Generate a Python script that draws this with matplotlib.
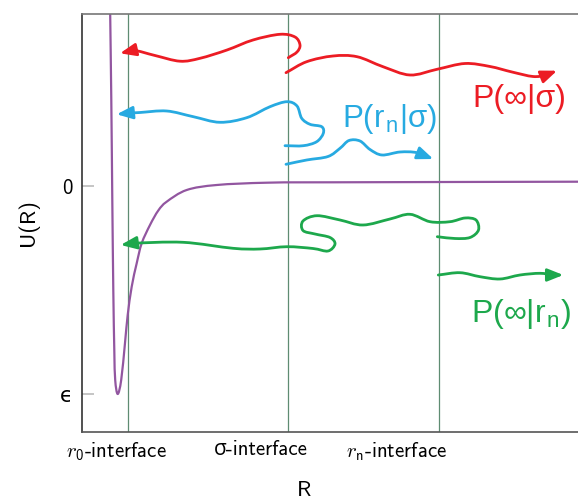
import numpy as np
import matplotlib
matplotlib.use("Agg")
import matplotlib.pyplot as plt
from matplotlib.path import Path
from matplotlib.patches import FancyArrowPatch, PathPatch

plt.rcParams['mathtext.fontset'] = 'custom'
plt.rcParams['mathtext.rm'] = 'cmss10'
plt.rcParams['mathtext.it'] = 'cmmi10'
plt.rcParams['mathtext.sf'] = 'Liberation Sans'
plt.rcParams['axes.unicode_minus'] = False

# ---------------- data (arbitrary units: R along x, U along y) ----------------
interfaces_R = [46, 206, 357]
xtick_pos = [34, 179, 315]
xtick_labels = [r"$r_0$-interface", "σ-interface", r"$r_\mathrm{n}$-interface"]
ytick_pos = [0, -208]
ytick_labels = ["0", "ϵ"]

# potential curve knots
pot_R = [28, 29.3, 30.3, 31.3, 32.3, 33.2, 35.7, 39.2, 43, 45.7, 49.7, 54.7, 59.7,
         68, 76.3, 84.7, 104.7, 134.7, 184.7, 251, 496]
pot_U = [186, 86, -14, -104, -164, -194, -208, -194, -157, -129, -100.7, -77.3, -57.3,
         -39, -24.5, -15.7, -4, 1, 3.3, 3.7, 4.3]

# trajectory knots (start -> arrow tip)
red1_R = [206.3, 215, 218, 213, 198, 171, 145, 118, 98, 73, 51.3, 38]
red1_U = [128.3, 134, 141, 149, 151.7, 146, 136, 127.7, 124.8, 130.5, 135.7, 132.7]
red2_R = [204, 224.7, 251, 275, 301, 328, 355, 383, 408, 430, 451, 464, 475]
red2_U = [113.3, 124.3, 130, 129.3, 119.3, 111, 116.7, 122.5, 119.5, 114, 109.5, 111, 115.3]
blue1_R = [203, 221.3, 234.7, 241.3, 239.7, 228, 219.7, 215, 205, 188, 164.7, 138, 111.3, 84.7, 58, 44.7, 34.7]
blue1_U = [40.3, 40.3, 44.3, 52.7, 59.3, 61.7, 67.7, 80, 84.3, 79.3, 68.3, 63.7, 69.3, 75, 73.5, 72.7, 71.7]
blue2_R = [204, 224.7, 246, 258, 267, 278, 288, 300, 318, 335, 351.3]
blue2_U = [21.7, 26, 29.5, 37.7, 45.5, 45, 36.5, 31, 34, 33.3, 27]
green1_R = [355.3, 373, 388, 396.5, 394, 383, 368, 348, 328, 308, 281, 258, 235,
            221, 221, 233, 248, 253, 246, 231, 205, 178, 151, 101, 51.3, 38.7]
green1_U = [-50.7, -52.5, -51.5, -44, -34, -32, -35.7, -35.7, -28.3, -33, -39, -34, -29.7,
            -35, -44.5, -48, -51.5, -58, -65, -62.5, -60.7, -63, -62.3, -56.3, -57.3, -59]
green2_R = [356.3, 378, 398, 418, 438, 458, 471, 481.3]
green2_U = [-89, -86.7, -90.7, -93, -89, -87.3, -89, -89]

RED = '#ec1c24'
BLUE = '#27aae1'
GREEN = '#1da84c'
PURPLE = '#9256a0'
VLINE = '#5f8c72'


def smooth_path(R, U):
    """Cubic Bezier path (Catmull-Rom handles) through the given knots."""
    p = np.column_stack([R, U]).astype(float)
    n = len(p)
    t = np.zeros_like(p)
    for i in range(n):
        if i == 0:
            t[i] = (p[1] - p[0]) / 3
        elif i == n - 1:
            t[i] = (p[-1] - p[-2]) / 3
        else:
            t[i] = (p[i + 1] - p[i - 1]) / 6
    verts = [p[0]]
    codes = [Path.MOVETO]
    for i in range(n - 1):
        verts += [p[i] + t[i], p[i + 1] - t[i + 1], p[i + 1]]
        codes += [Path.CURVE4] * 3
    return Path(np.array(verts), codes)


fig = plt.figure(figsize=(5.78, 5.01), dpi=100)
ax = fig.add_axes([82 / 578, 1 - 432 / 501, 1 - 82 / 578, (432 - 14) / 501])
ax.set_xlim(0, 496)
ax.set_ylim(-246, 172)

for xv in interfaces_R:
    ax.axvline(xv, color=VLINE, lw=0.9, zorder=1)

ax.add_patch(PathPatch(smooth_path(pot_R, pot_U), fill=False, edgecolor=PURPLE,
                       lw=1.6, zorder=2, capstyle='round', joinstyle='round'))

astyle = "-|>,head_length=0.95,head_width=0.38"
for (R, U, c) in [(red1_R, red1_U, RED), (red2_R, red2_U, RED),
                  (blue1_R, blue1_U, BLUE), (blue2_R, blue2_U, BLUE),
                  (green1_R, green1_U, GREEN), (green2_R, green2_U, GREEN)]:
    arr = FancyArrowPatch(path=smooth_path(R, U), arrowstyle=astyle, mutation_scale=10,
                          color=c, lw=2.0, zorder=3, capstyle='round', joinstyle='round')
    ax.add_patch(arr)

lab_font = ['Liberation Sans', 'DejaVu Sans']
ax.text(437.7, 79.3, "P(∞|σ)", color=RED, fontsize=23, ha='center', va='baseline', family=lab_font)
ax.text(307.2, 59.3, r"P(r$_{\mathsf{n}}$|σ)", color=BLUE, fontsize=22.5, ha='center', va='baseline', family=lab_font)
ax.text(439.3, -135.7, r"P(∞|r$_{\mathsf{n}}$)", color=GREEN, fontsize=23, ha='center', va='baseline', family=lab_font)

tick_font = ['cmss10', 'Open Sans', 'DejaVu Sans']
ax.set_xticks(xtick_pos)
ax.set_xticklabels(xtick_labels, fontsize=15, family=tick_font)
ax.set_yticks(ytick_pos)
ax.set_yticklabels(ytick_labels, fontsize=15, family=tick_font)
ax.tick_params(axis='x', length=0, pad=6)
ax.tick_params(axis='y', direction='in', length=8.5, width=1.1, color='#b5b5b5', pad=7)

ax.set_xlabel("R", fontsize=16, family=tick_font)
ax.set_ylabel("U(R)", fontsize=16, family=tick_font)
ax.xaxis.set_label_coords((304 - 82) / 496, -(490 - 432) / 418)
ax.xaxis.label.set_va('center')
ax.yaxis.set_label_coords((28 - 82) / 496, 0.5)
ax.yaxis.label.set_va('center')

ax.spines['right'].set_visible(False)
ax.spines['left'].set_color('#333333')
ax.spines['bottom'].set_color('#555555')
ax.spines['top'].set_color('#777777')
for s in ['left', 'bottom', 'top']:
    ax.spines[s].set_linewidth(1.2)

fig.savefig("out.png", dpi=100)
